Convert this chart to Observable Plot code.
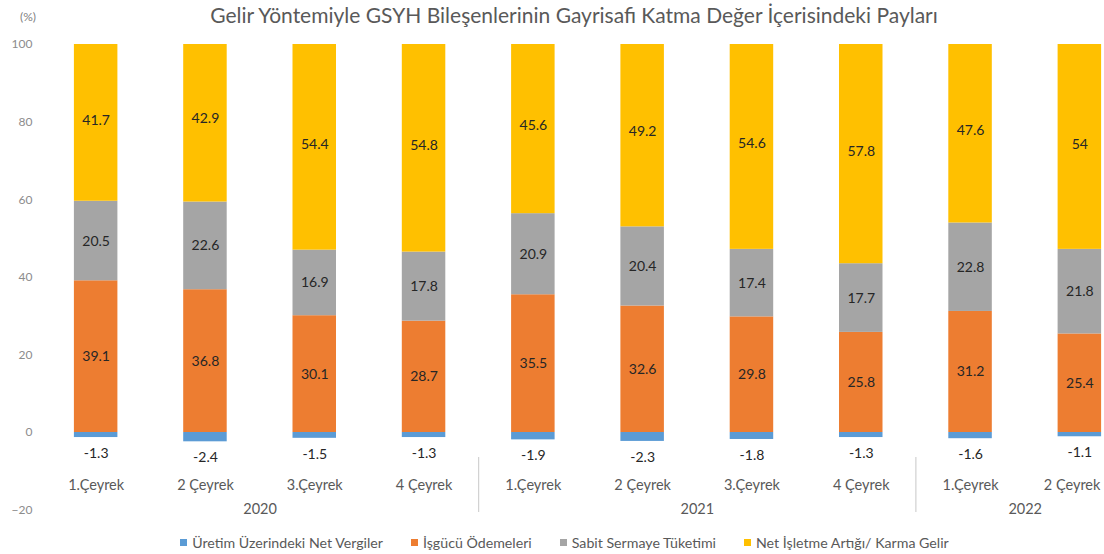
<!DOCTYPE html>
<html>
<head>
<meta charset="utf-8">
<script src="https://cdn.jsdelivr.net/npm/d3@7"></script>
<script src="https://cdn.jsdelivr.net/npm/@observablehq/plot@0.6"></script>
<style>
  html, body { margin: 0; padding: 0; background: #fff; }
  body { width: 1104px; height: 554px; overflow: hidden; font-family: Lato, "Open Sans", sans-serif; }
  #wrap { position: relative; width: 1104px; height: 554px; }
  #title { position: relative; height: 30px; }
  #title .t { position: absolute; left: 0; right: 0; top: 2px; text-align: center; font-size: 21px; color: #595959; margin-left: 44px; }
  #title .u { position: absolute; left: 20px; top: 9px; font-size: 12px; color: #7f7f7f; }
  #legend { display: flex; justify-content: center; gap: 28px; font-size: 14.2px; color: #595959; height: 24px; align-items: center; margin-left: 25px; }
  #legend .item { display: flex; align-items: center; gap: 5px; }
  #legend .sw { width: 7px; height: 7px; display: inline-block; }
  svg { display: block; }
</style>
</head>
<body>
<div id="wrap">
  <div id="title"><span class="u">(%)</span><div class="t">Gelir Yöntemiyle GSYH Bileşenlerinin Gayrisafi Katma Değer İçerisindeki Payları</div></div>
  <div id="chart"></div>
  <div id="legend"></div>
</div>
<script>
const quarters = ["1.Çeyrek", "2 Çeyrek", "3.Çeyrek", "4 Çeyrek", "1.Çeyrek", "2 Çeyrek", "3.Çeyrek", "4 Çeyrek", "1.Çeyrek", "2 Çeyrek"];
const years = ["2020", "2020", "2020", "2020", "2021", "2021", "2021", "2021", "2022", "2022"];
const seriesNames = ["Üretim Üzerindeki Net Vergiler", "İşgücü Ödemeleri", "Sabit Sermaye Tüketimi", "Net İşletme Artığı/ Karma Gelir"];
const seriesColors = ["#5B9BD5", "#ED7D31", "#A5A5A5", "#FFC000"];
const netVergiler = [-1.3, -2.4, -1.5, -1.3, -1.9, -2.3, -1.8, -1.3, -1.6, -1.1];
const isgucu = [39.1, 36.8, 30.1, 28.7, 35.5, 32.6, 29.8, 25.8, 31.2, 25.4];
const sabit = [20.5, 22.6, 16.9, 17.8, 20.9, 20.4, 17.4, 17.7, 22.8, 21.8];
const netIsletme = [41.7, 42.9, 54.4, 54.8, 45.6, 49.2, 54.6, 57.8, 47.6, 54];
const yTicks = [-20, 0, 20, 40, 60, 80, 100];

const seriesValues = [netVergiler, isgucu, sabit, netIsletme];
const long = [];
seriesValues.forEach((vals, s) => vals.forEach((v, i) => long.push({i, series: seriesNames[s], value: v})));
const positive = long.filter(d => d.series !== seriesNames[0]);
const negative = long.filter(d => d.series === seriesNames[0]);

// year groups
const groups = [];
years.forEach((y, i) => {
  const g = groups.find(g => g.year === y);
  if (g) g.count++; else groups.push({year: y, start: i, count: 1});
});

const inset = 32.9;
const chart = Plot.plot({
  width: 1104,
  height: 500,
  marginTop: 14,
  marginBottom: 20.4,
  marginLeft: 41,
  marginRight: 0,
  style: {fontFamily: "Lato, 'Open Sans', sans-serif", background: "#fff"},
  x: {type: "linear", domain: [0, quarters.length], range: [41, 1134], axis: null},
  y: {domain: [-20, 100], axis: null},
  color: {domain: seriesNames, range: seriesColors},
  marks: [
    Plot.axisY({ticks: yTicks, tickSize: 0, tickPadding: 9, fontSize: 12, fill: "#8c8c8c", label: null}),
    Plot.rect(long, Plot.stackY({
      x: "i", y: "value", z: "series",
      x1: d => d.i, x2: d => d.i + 1,
      fill: "series", insetLeft: inset, insetRight: inset, clip: true
    })),
    Plot.text(positive, Plot.stackY({
      x: d => d.i + 0.5, y: "value", z: "series",
      text: d => String(d.value), fontSize: 14, fill: "#262626"
    })),
    Plot.text(negative, {x: d => d.i + 0.5, y: "value", dy: 16, text: d => String(d.value), fontSize: 14, fill: "#262626"}),
    Plot.text(quarters.map((q, i) => ({q, i})), {x: d => d.i + 0.5, frameAnchor: "bottom", dy: -20, text: "q", fontSize: 14.5, fill: "#595959", className: "qlab"}),
    Plot.text(groups, {x: g => g.start + g.count / 2, frameAnchor: "bottom", dy: 4, text: "year", fontSize: 14.5, fill: "#595959"}),
    Plot.ruleX(groups.filter(g => g.start > 0), {x: "start", insetTop: 413, insetBottom: -2.4, stroke: "#c8c8c8", strokeWidth: 1})
  ]
});
document.getElementById("chart").appendChild(chart);

// keep category labels inside the picture (as the original chart does)
chart.querySelectorAll(".qlab text").forEach(t => {
  const b = t.getBBox();
  let ctm = t.getCTM();
  const right = (ctm ? ctm.e : 0) + b.x + b.width;
  const over = right - 1101;
  if (over > 0) t.setAttribute("dx", -over);
});

const legend = document.getElementById("legend");
seriesNames.forEach((name, k) => {
  const item = document.createElement("div");
  item.className = "item";
  const sw = document.createElement("span");
  sw.className = "sw";
  sw.style.background = seriesColors[k];
  const label = document.createElement("span");
  label.textContent = name;
  item.appendChild(sw);
  item.appendChild(label);
  legend.appendChild(item);
});
</script>
</body>
</html>
